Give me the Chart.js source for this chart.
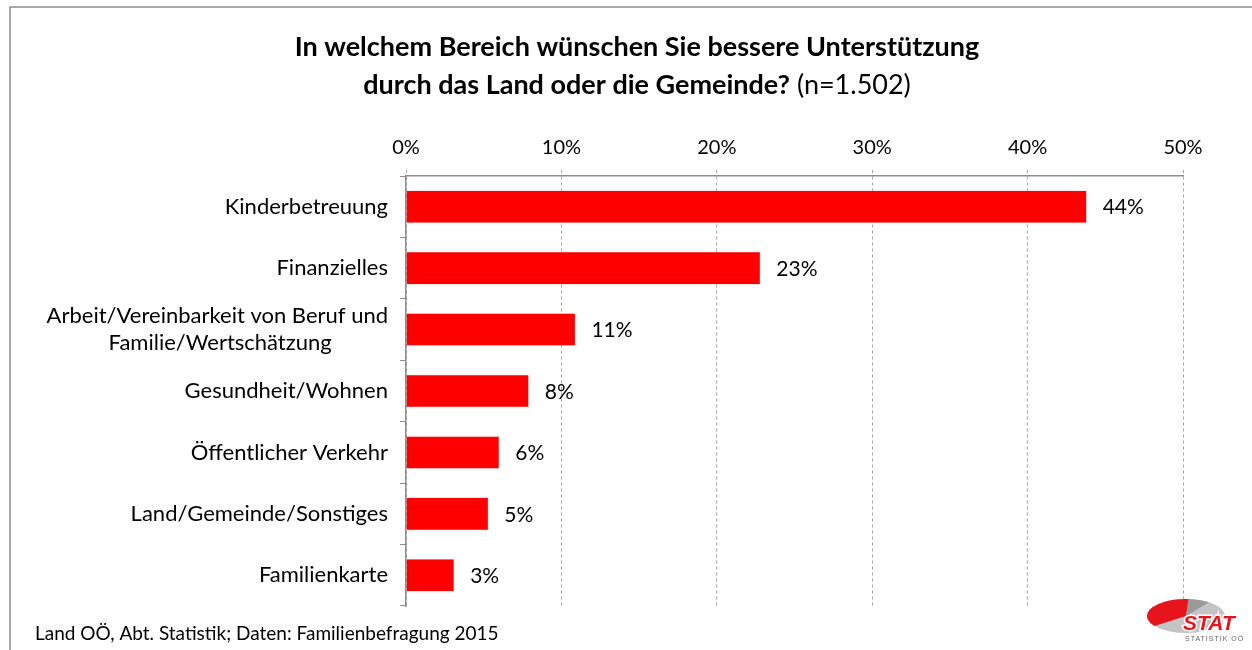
<!DOCTYPE html>
<html lang="de">
<head>
  <meta charset="UTF-8" />
  <title>Unterstützung durch Land oder Gemeinde</title>
  <style>
    body {
      margin: 0;
      background-color: white;
      overflow: hidden;
    }
    #chart {
      display: block;
    }
  </style>
</head>
<body>
  <canvas id="chart" width="1252" height="650"></canvas>

  <script src="https://cdn.jsdelivr.net/npm/chart.js"></script>
  <script>
    const categories = [
      'Kinderbetreuung',
      'Finanzielles',
      ['Arbeit/Vereinbarkeit von Beruf und', 'Familie/Wertschätzung'],
      'Gesundheit/Wohnen',
      'Öffentlicher Verkehr',
      'Land/Gemeinde/Sonstiges',
      'Familienkarte'
    ];
    const shares = [43.8, 22.8, 10.9, 7.9, 6.0, 5.3, 3.1];
    const shareLabels = ['44%', '23%', '11%', '8%', '6%', '5%', '3%'];
    const xMin = 0, xMax = 50, xStep = 10;

    const titleLine1 = 'In welchem Bereich wünschen Sie bessere Unterstützung';
    const titleLine2 = 'durch das Land oder die Gemeinde?';
    const titleN = ' (n=1.502)';
    const footer = 'Land OÖ, Abt. Statistik; Daten: Familienbefragung 2015';

    const FONT = 'Lato, "Open Sans", sans-serif';
    const LABEL_FONT = '22px ' + FONT;

    // y labels are right aligned; pad shorter lines so wrapped labels look centred
    function centerWrapped(label) {
      if (!Array.isArray(label)) return label;
      const m = document.createElement('canvas').getContext('2d');
      m.font = LABEL_FONT;
      const nb = m.measureText('\u00a0').width;
      const widths = label.map(t => m.measureText(t).width);
      const max = Math.max(...widths);
      return label.map((t, i) => t + '\u00a0'.repeat(Math.round((max - widths[i]) / 2 / nb)));
    }

    // frame, title, footer, value labels and logo
    const decor = {
      id: 'decor',
      beforeDraw(chart) {
        const c = chart.ctx;
        c.save();
        c.strokeStyle = '#8c8c8c';
        c.lineWidth = 1.5;
        c.beginPath();
        c.moveTo(10, 650);
        c.lineTo(10, 7);
        c.lineTo(1252, 7);
        c.stroke();
        c.restore();
      },
      afterDraw(chart) {
        const c = chart.ctx;
        c.save();
        c.fillStyle = '#000';
        c.textBaseline = 'middle';

        // title
        c.textAlign = 'center';
        c.font = 'bold 27px ' + FONT;
        c.fillText(titleLine1, 637, 47);
        const w2 = c.measureText(titleLine2).width;
        c.font = '27px ' + FONT;
        const wn = c.measureText(titleN).width;
        const x0 = 637 - (w2 + wn) / 2;
        c.textAlign = 'left';
        c.font = 'bold 27px ' + FONT;
        c.fillText(titleLine2, x0, 85);
        c.font = '27px ' + FONT;
        c.fillText(titleN, x0 + w2, 85);

        // footer
        c.font = '19px ' + FONT;
        c.fillText(footer, 35, 634);

        // value labels
        c.font = '21px ' + FONT;
        const meta = chart.getDatasetMeta(0);
        meta.data.forEach((bar, i) => {
          c.fillText(shareLabels[i], bar.x + 16, bar.y + 1);
        });

        // logo
        const cx = 1186, cy = 616, rx = 39, ry = 17;
        c.fillStyle = '#c4c4c4';
        c.beginPath();
        c.ellipse(cx, cy, rx, ry, 0, 0, Math.PI * 2);
        c.fill();
        c.fillStyle = '#9a9a9a';
        c.beginPath();
        c.moveTo(cx, cy);
        c.ellipse(cx, cy, rx, ry, 0, -Math.PI * 0.48, -Math.PI * 0.3);
        c.closePath();
        c.fill();
        c.fillStyle = '#e8141c';
        c.beginPath();
        c.moveTo(cx, cy);
        c.ellipse(cx, cy, rx, ry, 0, Math.PI * 0.8, Math.PI * 1.52);
        c.closePath();
        c.fill();
        c.font = 'italic bold 21px "Liberation Sans", sans-serif';
        c.textAlign = 'left';
        c.textBaseline = 'alphabetic';
        c.lineWidth = 3;
        c.strokeStyle = '#ffffff';
        c.strokeText('STAT', 1183, 630);
        c.fillStyle = '#e8141c';
        c.fillText('STAT', 1183, 630);
        c.font = '7px "Liberation Sans", sans-serif';
        c.letterSpacing = '1px';
        c.fillStyle = '#666';
        c.textBaseline = 'middle';
        c.fillText('STATISTIK OÖ', 1185, 639);
        c.restore();
      }
    };

    new Chart(document.getElementById('chart'), {
      type: 'bar',
      data: {
        labels: categories.map(centerWrapped),
        datasets: [{
          data: shares,
          backgroundColor: '#ff0000',
          borderColor: '#ffb0b0',
          borderWidth: 0.5,
          barPercentage: 0.53,
          categoryPercentage: 1
        }]
      },
      options: {
        indexAxis: 'y',
        responsive: false,
        animation: false,
        layout: { padding: { left: 0, right: 69, top: 0, bottom: 44 } },
        plugins: {
          legend: { display: false },
          tooltip: { enabled: false }
        },
        scales: {
          x: {
            position: 'top',
            min: xMin,
            max: xMax,
            afterFit: s => { s.height = 176; },
            ticks: {
              stepSize: xStep,
              callback: v => v + '%',
              color: '#000',
              font: { family: FONT, size: 20 },
              padding: 10
            },
            grid: {
              color: '#a6a6a6',
              lineWidth: 1,
              tickLength: 6,
              tickBorderDash: [3, 3]
            },
            border: {
              display: true,
              color: '#8c8c8c',
              width: 1.5,
              dash: [3, 3]
            }
          },
          y: {
            afterFit: s => { s.width = 406; },
            ticks: {
              color: '#000',
              font: { family: FONT, size: 22 },
              padding: 12
            },
            grid: {
              drawOnChartArea: false,
              color: '#8c8c8c',
              tickLength: 6,
              offset: true
            },
            border: {
              display: true,
              color: '#8c8c8c',
              width: 1.5
            }
          }
        }
      },
      plugins: [decor]
    });
  </script>
</body>
</html>
